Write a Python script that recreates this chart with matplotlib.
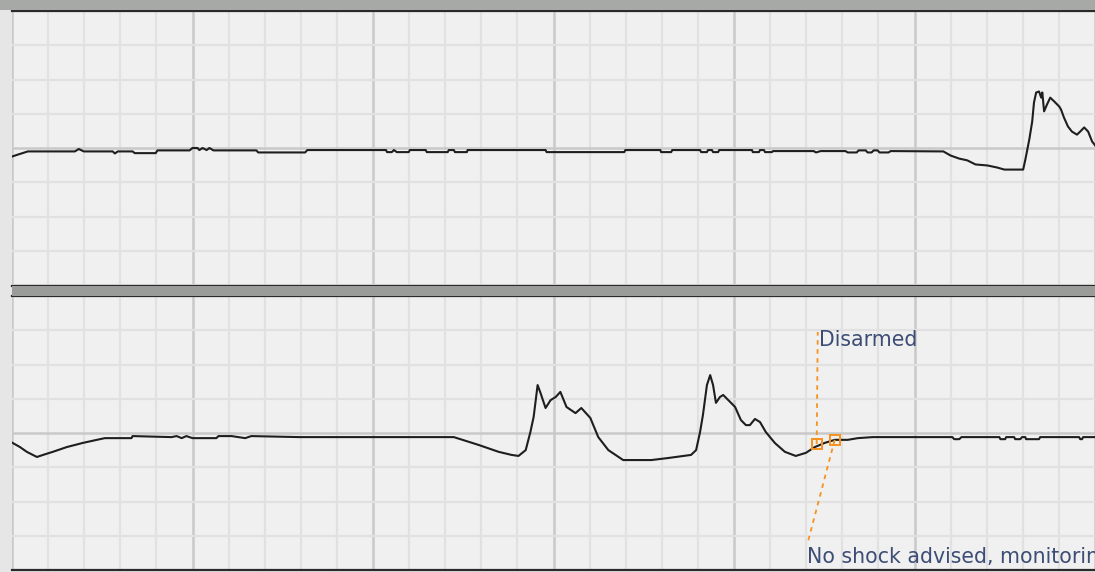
import numpy as np
import matplotlib.pyplot as plt
from matplotlib.patches import Rectangle

# grid units: x = minor divisions, y = divisions from centre line
top_x = [0.00, 0.17, 0.44, 1.74, 1.85, 1.99, 2.79, 2.85, 2.93, 3.34, 3.40, 3.98, 4.03, 4.92,
         5.00, 5.14, 5.19, 5.28, 5.39, 5.47, 5.58, 6.77, 6.82, 8.12, 8.18, 10.36, 10.39, 10.52,
         10.58, 10.66, 10.99, 11.02, 11.46, 11.49, 12.07, 12.10, 12.24, 12.27, 12.60, 12.62,
         14.78, 14.81, 16.96, 16.99, 17.96, 17.98, 18.26, 18.29, 19.06, 19.09, 19.25, 19.28,
         19.39, 19.42, 19.56, 19.59, 20.50, 20.52, 20.69, 20.72, 20.83, 20.86, 21.05, 21.08,
         22.21, 22.27, 22.40, 23.09, 23.15, 23.40, 23.45, 23.65, 23.70, 23.81, 23.87, 23.98,
         24.03, 24.28, 24.34, 25.80, 26.00, 26.24, 26.46, 26.69, 27.02, 27.29, 27.49, 28.01,
         28.07, 28.18, 28.26, 28.31, 28.37, 28.45, 28.51, 28.54, 28.59, 28.67, 28.76, 28.87,
         29.01, 29.06, 29.14, 29.25, 29.36, 29.50, 29.59, 29.70, 29.81, 29.92, 30.06]
top_y = [-0.25, -0.19, -0.10, -0.10, -0.03, -0.10, -0.10, -0.16, -0.10, -0.10, -0.15, -0.15, -0.07, -0.07,
         0.00, 0.00, -0.06, 0.00, -0.06, 0.00, -0.07, -0.07, -0.13, -0.13, -0.06, -0.06, -0.12, -0.12,
         -0.06, -0.12, -0.12, -0.06, -0.06, -0.12, -0.12, -0.06, -0.06, -0.12, -0.12, -0.06,
         -0.06, -0.12, -0.12, -0.06, -0.06, -0.12, -0.12, -0.06, -0.06, -0.12, -0.12, -0.06,
         -0.06, -0.12, -0.12, -0.06, -0.06, -0.12, -0.12, -0.06, -0.06, -0.12, -0.12, -0.09,
         -0.09, -0.13, -0.09, -0.09, -0.13, -0.13, -0.07, -0.07, -0.13, -0.13, -0.07, -0.07,
         -0.13, -0.13, -0.09, -0.10, -0.22, -0.31, -0.36, -0.48, -0.51, -0.57, -0.63, -0.63,
         -0.34, 0.25, 0.77, 1.33, 1.62, 1.65, 1.47, 1.62, 1.07, 1.27, 1.47, 1.36,
         1.21, 1.12, 0.89, 0.63, 0.48, 0.39, 0.48, 0.60, 0.48, 0.19, 0.00]

bot_x = [0.00, 0.22, 0.41, 0.69, 0.86, 1.13, 1.52, 1.96, 2.35, 2.57, 3.31, 3.34, 4.42, 4.56, 4.70,
         4.83, 5.00, 5.66, 5.72, 6.08, 6.46, 6.63, 7.96, 12.24, 12.93, 13.48, 13.84, 14.03, 14.23,
         14.36, 14.45, 14.56, 14.64, 14.78, 14.92, 15.06, 15.19, 15.36, 15.61, 15.77, 16.02,
         16.24, 16.52, 16.93, 17.71, 18.18, 18.81, 18.95, 19.06, 19.14, 19.25, 19.34, 19.42,
         19.50, 19.61, 19.70, 19.89, 20.03, 20.19, 20.33, 20.44, 20.58, 20.72, 20.88, 21.13,
         21.41, 21.71, 21.99, 22.24, 22.51, 22.79, 23.15, 23.43, 23.84, 25.17, 26.05, 26.10,
         26.24, 26.30, 27.35, 27.38, 27.51, 27.54, 27.76, 27.79, 27.93, 27.98, 28.07, 28.09,
         28.45, 28.48, 29.56, 29.59, 29.64, 29.67, 30.06]
bot_y = [-0.28, -0.41, -0.55, -0.70, -0.64, -0.55, -0.41, -0.29, -0.20, -0.15, -0.15, -0.09, -0.12, -0.09, -0.15,
         -0.09, -0.15, -0.15, -0.09, -0.09, -0.15, -0.09, -0.12, -0.12, -0.35, -0.55, -0.64, -0.67, -0.50,
         0.03, 0.47, 1.40, 1.17, 0.73, 0.96, 1.05, 1.20, 0.76, 0.58, 0.73, 0.44,
         -0.12, -0.50, -0.79, -0.79, -0.73, -0.64, -0.50, 0.03, 0.53, 1.40, 1.69, 1.40,
         0.88, 1.05, 1.11, 0.91, 0.76, 0.38, 0.23, 0.23, 0.41, 0.32, 0.03, -0.29,
         -0.55, -0.67, -0.58, -0.41, -0.29, -0.20, -0.20, -0.15, -0.12, -0.12, -0.12, -0.18,
         -0.18, -0.12, -0.12, -0.18, -0.18, -0.12, -0.12, -0.18, -0.18, -0.12, -0.12, -0.18,
         -0.18, -0.12, -0.12, -0.18, -0.18, -0.12, -0.12]

# events on the lower strip: marker point, label anchor, label
ev_labels = ["Disarmed", "No shock advised, monitoring"]
ev_x = [22.29, 22.79]
ev_y = [-0.32, -0.20]
ev_tx = [22.32, 21.98]
ev_ty = [2.95, -3.21]

W, H = 1095, 572
fig = plt.figure(figsize=(W / 100, H / 100), dpi=100)
fig.patch.set_facecolor('#e6e6e6')

BG = '#f0f0f0'
MINOR = '#e1e1e1'
MAJOR = '#c9c9c9'
ORANGE = '#f7921e'
TXT = '#3d4d75'


def strip(ax):
    ax.set_facecolor(BG)
    ax.set_xlim(0, (W - 12) / 36.2)
    ax.set_ylim(-4, 4)
    ax.set_xticks(np.arange(0, 31, 5))
    ax.set_xticks(np.arange(0, 31, 1), minor=True)
    ax.set_yticks([0])
    ax.set_yticks(np.arange(-4, 5, 1), minor=True)
    ax.grid(True, which='minor', color=MINOR, lw=1.6)
    ax.grid(True, which='major', color=MAJOR, lw=1.8)
    ax.set_axisbelow(True)
    ax.tick_params(which='both', length=0, labelbottom=False, labelleft=False)
    for s in ['left', 'right']:
        ax.spines[s].set_visible(False)
    ax.spines['top'].set_color('#2a2a2a')
    ax.spines['top'].set_linewidth(1.6)
    ax.spines['bottom'].set_color('#2a2a2a')
    ax.spines['bottom'].set_linewidth(1.6)


l = 12 / W
ax1 = fig.add_axes([l, 1 - 285 / H, 1 - l, 274 / H])
ax2 = fig.add_axes([l, 1 - 570 / H, 1 - l, 274 / H])
strip(ax1)
strip(ax2)
ax1.spines['bottom'].set_visible(False)

ax1.plot(top_x, top_y, color='#1e1e1e', lw=1.5)
ax2.plot(bot_x, bot_y, color='#1e1e1e', lw=1.5)

# header bar and divider between strips
fig.patches.append(Rectangle((0, 1 - 10 / H), 1, 10 / H, transform=fig.transFigure,
                             facecolor='#a7a9a7', edgecolor='none', zorder=0))
fig.patches.append(Rectangle((l, 1 - 296 / H), 1 - l, 10 / H, transform=fig.transFigure,
                             facecolor='#9a9c9a', edgecolor='none', zorder=5))
fig.add_artist(plt.Line2D([l, 1], [1 - 285.5 / H] * 2, color='#2a2a2a', lw=1.6))

for i in range(len(ev_labels)):
    ax2.plot([ev_x[i], ev_tx[i] + (0.0 if i == 0 else 0.06)], [ev_y[i], ev_ty[i]],
             color=ORANGE, lw=1.3, ls=(0, (2.5, 2.5)), zorder=3)
    ax2.plot(ev_x[i], ev_y[i], marker='s', ms=7, mfc='none', mec=ORANGE, mew=1.4, zorder=4)
    ax2.text(ev_tx[i] + 0.03, ev_ty[i] + (0.05 if i == 0 else -0.12), ev_labels[i],
             color=TXT, fontsize=14.8, va='top',
             family='DejaVu Sans', clip_on=False, zorder=6)

fig.savefig('out.png', dpi=100, facecolor=fig.get_facecolor())
